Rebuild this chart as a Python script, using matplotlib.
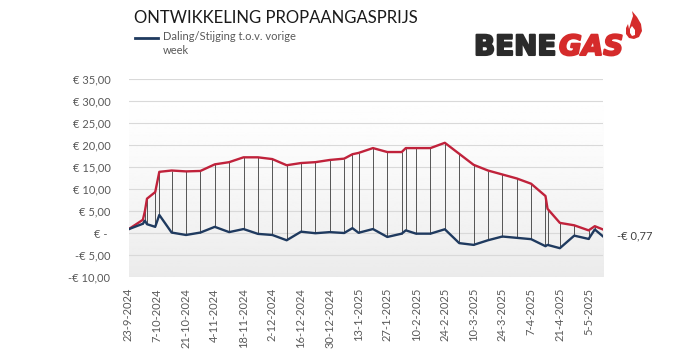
import numpy as np
import matplotlib
matplotlib.use('Agg')
import matplotlib.pyplot as plt
import matplotlib.dates as mdates
import matplotlib.patheffects as pe
from matplotlib.patches import Polygon
from matplotlib.lines import Line2D
import datetime as dt

plt.rcParams['font.family'] = ['Lato', 'DejaVu Sans']

# data
dates = ['2024-09-23', '2024-09-30', '2024-10-01', '2024-10-02', '2024-10-06', '2024-10-08',
         '2024-10-14', '2024-10-21', '2024-10-28', '2024-11-04', '2024-11-11', '2024-11-18',
         '2024-11-25', '2024-12-02', '2024-12-09', '2024-12-16', '2024-12-23', '2024-12-30',
         '2025-01-06', '2025-01-10', '2025-01-13', '2025-01-20', '2025-01-27', '2025-02-03',
         '2025-02-05', '2025-02-10', '2025-02-17', '2025-02-24', '2025-03-03', '2025-03-10',
         '2025-03-17', '2025-03-24', '2025-03-31', '2025-04-07', '2025-04-14', '2025-04-15',
         '2025-04-21', '2025-04-28', '2025-05-05', '2025-05-08', '2025-05-12']
cumulative = [0.85, 3.0, 5.0, 7.8, 9.3, 13.9,
              14.2, 14.0, 14.1, 15.6, 16.1, 17.2,
              17.2, 16.8, 15.4, 15.9, 16.1, 16.6,
              16.9, 17.9, 18.2, 19.3, 18.4, 18.4,
              19.3, 19.3, 19.3, 20.5, 18.0, 15.5,
              14.2, 13.3, 12.4, 11.2, 8.4, 5.5,
              2.3, 1.75, 0.6, 1.55, 0.8]
weekly = [0.85, 2.1, 2.8, 2.0, 1.4, 4.1,
          0.1, -0.45, 0.1, 1.4, 0.2, 0.9,
          -0.2, -0.45, -1.65, 0.3, -0.05, 0.2,
          0.0, 1.1, 0.05, 0.9, -0.9, -0.15,
          0.6, -0.15, -0.15, 0.85, -2.3, -2.7,
          -1.65, -0.8, -1.1, -1.4, -3.0, -2.7,
          -3.45, -0.6, -1.35, 0.8, -0.77]
tick_dates = ['2024-09-23', '2024-10-07', '2024-10-21', '2024-11-04', '2024-11-18', '2024-12-02',
              '2024-12-16', '2024-12-30', '2025-01-13', '2025-01-27', '2025-02-10', '2025-02-24',
              '2025-03-10', '2025-03-24', '2025-04-07', '2025-04-21', '2025-05-05']
y_ticks = [-10, -5, 0, 5, 10, 15, 20, 25, 30, 35]

RED = '#c0223b'
BLUE = '#1f3a5f'
GREY = '#595959'

W, H = 699, 363
x = [dt.datetime.strptime(d, '%Y-%m-%d') for d in dates]
xt = [dt.datetime.strptime(d, '%Y-%m-%d') for d in tick_dates]


def px(xp, yp):
    return xp / W, 1 - yp / H


def eur(v):
    if v == 0:
        return '€ - '
    s = '€ {:.2f}'.format(abs(v)).replace('.', ',')
    return '-' + s if v < 0 else s


fig = plt.figure(figsize=(W / 100, H / 100), dpi=100)
ax = fig.add_axes([128.5 / W, 1 - 277 / H, 474.5 / W, 198 / H])

x0, x1 = mdates.date2num(x[0]), mdates.date2num(x[-1])
# plot area gradient (white top -> light grey bottom)
grad = np.linspace(0, 1, 200)[:, None] ** 1.5
ax.imshow(1 - grad * 0.08, cmap='gray', vmin=0, vmax=1, aspect='auto',
          extent=[x0, x1, -10, 35], origin='upper', zorder=0)

for t in y_ticks:
    ax.axhline(t, color='#d9d9d9', lw=0.8, zorder=1)

ax.vlines(x, weekly, cumulative, color='#3a3a3a', lw=0.6, zorder=2)
ax.plot(x, cumulative, color=RED, lw=1.7, zorder=3)
ax.plot(x, weekly, color=BLUE, lw=1.7, zorder=4)

ax.set_xlim(x0, x1)
ax.set_ylim(-10, 35)
ax.set_yticks(y_ticks)
ax.set_yticklabels([eur(v) for v in y_ticks])
ax.set_xticks(xt)
ax.set_xticklabels([f'{d.day}-{d.month}-{d.year}' for d in xt], rotation=90)
ax.tick_params(length=0, labelsize=8, labelcolor=GREY)
ax.tick_params(axis='y', pad=13)
ax.tick_params(axis='x', pad=8)
for s in ax.spines.values():
    s.set_visible(False)

# last value label
ax.annotate('-€ 0,77', xy=(x[-1], weekly[-1]), xytext=(10, 0), textcoords='offset points',
            ha='left', va='center', fontsize=8, color='#404040', annotation_clip=False)

# title and legend
fig.text(*px(276, 18), 'ONTWIKKELING PROPAANGASPRIJS', ha='center', va='center',
         fontsize=12, color='#1a1a1a')
fig.add_artist(Line2D([135 / W, 158 / W], [1 - 38 / H, 1 - 38 / H], color=BLUE, lw=2))
fig.text(*px(163, 31), 'Daling/Stijging t.o.v. vorige\nweek', ha='left', va='top',
         fontsize=8, color=GREY, linespacing=1.3)

# logo
fig.text(*px(474, 55), 'BENE', ha='left', va='baseline', fontsize=20,
         fontweight='bold', color='#2b2b2b', family='DejaVu Sans',
         path_effects=[pe.withStroke(linewidth=1.5, foreground='#2b2b2b')])
fig.text(*px(559, 55), 'GAS', ha='left', va='baseline', fontsize=20,
         fontweight='bold', style='italic', color='#d52b2b', family='DejaVu Sans',
         path_effects=[pe.withStroke(linewidth=1.5, foreground='#d52b2b')])
outer = [(632, 11), (637, 17), (641, 24), (642, 31), (639, 37), (634, 39), (629, 38),
         (626, 34), (626, 28), (628, 24), (629, 29), (631, 22), (633, 16)]
inner = [(632, 26), (635, 30), (635, 35), (632, 36), (630, 33), (630, 29)]
fig.add_artist(Polygon([px(a, b) for a, b in outer], closed=True, fc='#d52b2b', ec='none',
                       transform=fig.transFigure))
fig.add_artist(Polygon([px(a, b) for a, b in inner], closed=True, fc='white', ec='none',
                       transform=fig.transFigure))

fig.savefig('out.png', dpi=100, facecolor='white')
